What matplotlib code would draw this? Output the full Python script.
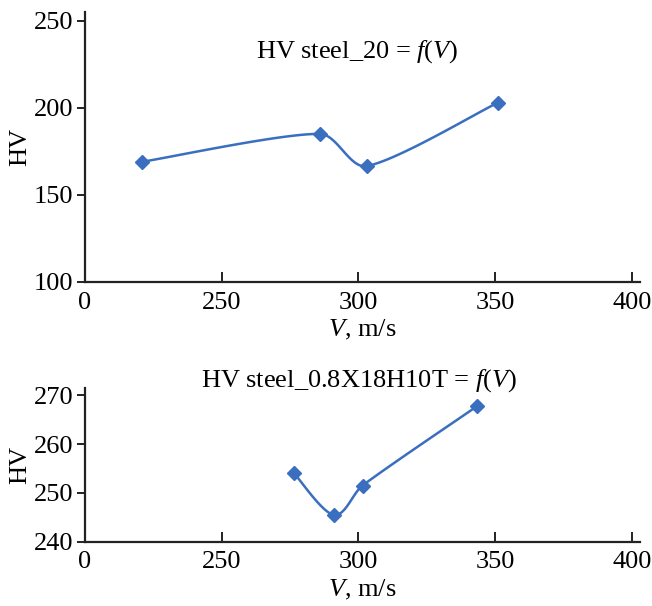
import numpy as np
import matplotlib
matplotlib.use("Agg")
import matplotlib.pyplot as plt

# ---- data ----
v_steel20 = [221, 286, 303, 351]
hv_steel20 = [169, 185, 166.5, 203]

v_steel08 = [276.5, 291, 301.5, 343.5]
hv_steel08 = [254, 245.5, 251.5, 267.8]

x_ticks = [200, 250, 300, 350, 400]
x_ticklabels = ["0", "250", "300", "350", "400"]
y_ticks_top = [100, 150, 200, 250]
y_ticks_bot = [240, 250, 260, 270]

plt.rcParams['font.family'] = ['Liberation Serif', 'DejaVu Serif']
plt.rcParams['mathtext.fontset'] = 'custom'
plt.rcParams['mathtext.rm'] = 'Liberation Serif'
plt.rcParams['mathtext.it'] = 'Liberation Serif:italic'

COL = '#3a6fc0'
FS = 19


def smooth(ax, x, y, n=40, k=0.9):
    """Bezier smoothing in display space (Catmull-Rom, control length clamped per segment)."""
    P = ax.transData.transform(np.column_stack([np.asarray(x, float), np.asarray(y, float)]))
    m = len(P)
    tang = []
    for i in range(m):
        a = P[max(i - 1, 0)]; b = P[min(i + 1, m - 1)]
        tang.append(b - a)
    out = [P[0]]
    t = np.linspace(0, 1, n)[1:]
    for i in range(m - 1):
        p1 = P[i]; p2 = P[i + 1]
        L = np.linalg.norm(p2 - p1)
        d1 = tang[i]; d2 = tang[i + 1]
        l1 = min(L / 3.0 * k, np.linalg.norm(d1) / 6.0)
        l2 = min(L / 3.0 * k, np.linalg.norm(d2) / 6.0)
        c1 = p1 + d1 / np.linalg.norm(d1) * l1
        c2 = p2 - d2 / np.linalg.norm(d2) * l2
        for tt in t:
            bz = ((1 - tt) ** 3) * p1 + 3 * ((1 - tt) ** 2) * tt * c1 + 3 * (1 - tt) * tt ** 2 * c2 + tt ** 3 * p2
            out.append(bz)
    out = ax.transData.inverted().transform(np.array(out))
    return out[:, 0], out[:, 1]


fig = plt.figure(figsize=(6.52, 6.06), dpi=100)
ax1 = fig.add_axes([0.130, 0.535, 0.852, 0.445])
ax2 = fig.add_axes([0.130, 0.106, 0.852, 0.254])


def style(ax, yt, ylim):
    ax.set_xlim(200, 403)
    ax.set_ylim(*ylim)
    ax.set_xticks(x_ticks)
    ax.set_xticklabels(x_ticklabels)
    ax.set_yticks(yt)
    for s in ['top', 'right']:
        ax.spines[s].set_visible(False)
    for s in ['left', 'bottom']:
        ax.spines[s].set_linewidth(1.6)
        ax.spines[s].set_color('#222222')
    ax.tick_params(axis='x', direction='in', length=7, width=1.4, labelsize=FS, pad=7, color='#222222')
    ax.tick_params(axis='y', direction='out', length=6, width=1.4, labelsize=FS, pad=2, color='#222222')
    ax.set_ylabel('HV', fontsize=FS, labelpad=2)
    ax.set_xlabel(r'$\mathit{V}$, m/s', fontsize=FS, labelpad=3)


style(ax1, y_ticks_top, (100, 255))
style(ax2, y_ticks_bot, (240, 271.5))

sx, sy = smooth(ax1, v_steel20, hv_steel20)
ax1.plot(sx, sy, color=COL, lw=1.8)
ax1.plot(v_steel20, hv_steel20, 'D', color=COL, ms=7.5, clip_on=False)
ax1.text(0.49, 0.855, r'HV steel_20 = $\mathit{f}$($\mathit{V}$)', transform=ax1.transAxes,
         ha='center', va='center', fontsize=FS)

sx, sy = smooth(ax2, v_steel08, hv_steel08)
ax2.plot(sx, sy, color=COL, lw=1.8)
ax2.plot(v_steel08, hv_steel08, 'D', color=COL, ms=7.5, clip_on=False)
fig.text(0.55, 0.372, r'HV steel_0.8X18H10T = $\mathit{f}$($\mathit{V}$)', ha='center', va='center', fontsize=FS)

fig.savefig('out.png', dpi=100)
